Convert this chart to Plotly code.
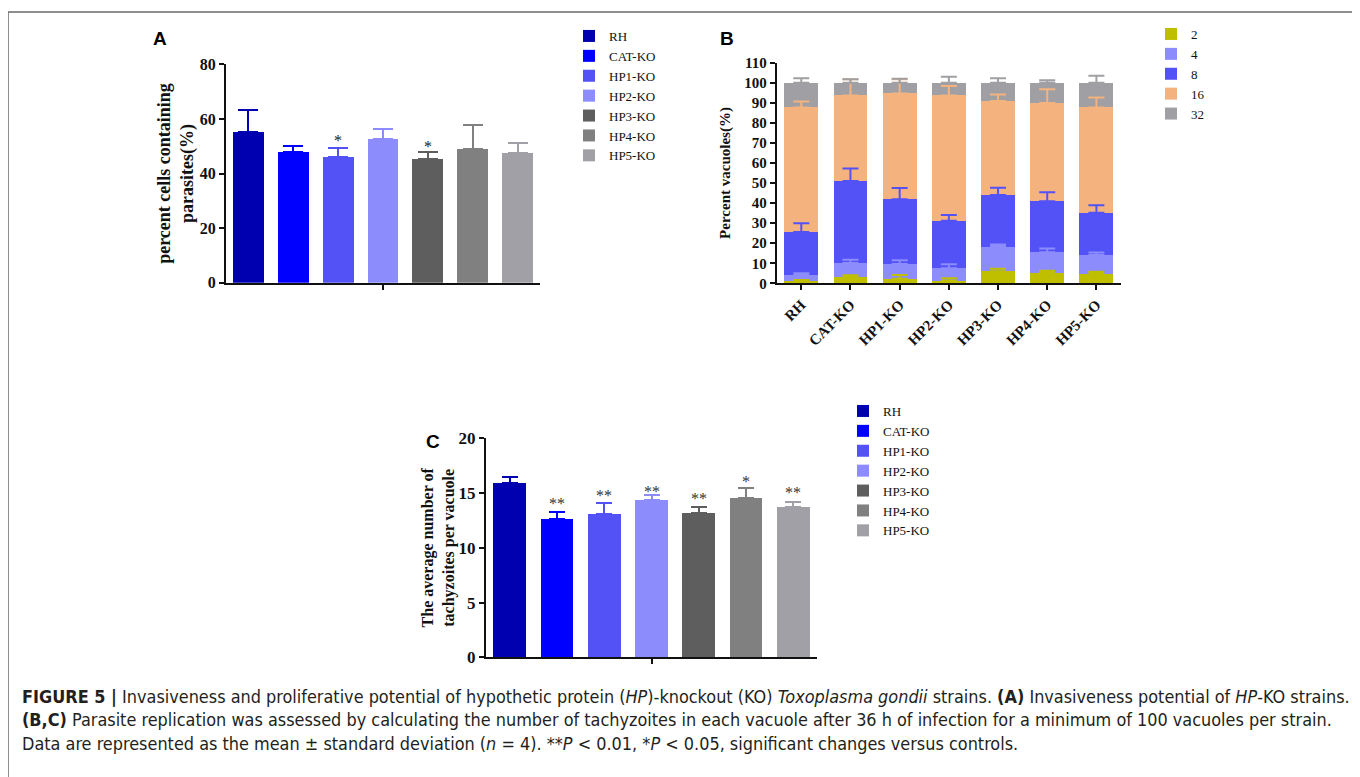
import plotly.graph_objects as go

# page has an 8px body margin, so the figure is drawn 8px in from the top-left corner
OFF = 8
W, H = 1360 - OFF, 777 - OFF

# ---------------- data ----------------
strains = ["RH", "CAT-KO", "HP1-KO", "HP2-KO", "HP3-KO", "HP4-KO", "HP5-KO"]
strain_colors = ["#0000B0", "#0000FF", "#5252F7", "#8C8CFC", "#5E5E5E", "#808080", "#A0A0A6"]

# Panel A: percent cells containing parasites
invasion_mean = [55.3, 47.9, 45.9, 52.7, 45.4, 49.1, 47.6]
invasion_sd = [7.8, 2.2, 3.3, 3.6, 2.5, 8.8, 3.4]
invasion_sig = ["", "", "*", "", "*", "", ""]
invasion_sig_pos = [0, 0, 53.5, 0, 51.2, 0, 0]

# Panel B: percent vacuoles containing 2/4/8/16/32 tachyzoites (stacked)
vac_groups = ["2", "4", "8", "16", "32"]
vac_colors = ["#BFBF00", "#8C8CFC", "#5252F7", "#F4B27E", "#A0A0A4"]
vac_2 = [1.2, 3.3, 2.3, 1.3, 6.0, 5.3, 4.8]
vac_4 = [3.0, 6.8, 7.3, 6.2, 12.3, 10.2, 9.3]
vac_8 = [21.4, 40.9, 32.3, 23.7, 25.7, 25.4, 21.1]
vac_16 = [62.1, 42.7, 52.8, 62.5, 46.9, 49.0, 52.5]
vac_32 = [12.3, 6.3, 5.3, 6.3, 9.1, 10.1, 12.3]
sd_2 = [0.5, 0.7, 1.9, 1.2, 1.3, 1.0, 1.0]
sd_4 = [0.8, 1.7, 1.9, 2.0, 1.1, 1.8, 1.2]
sd_8 = [4.3, 6.2, 5.6, 2.9, 3.7, 4.5, 3.7]
sd_16 = [3.0, 8.0, 7.0, 4.7, 3.3, 6.8, 4.9]
sd_32 = [2.2, 1.7, 2.0, 3.0, 2.2, 1.2, 3.5]
vac_values = [vac_2, vac_4, vac_8, vac_16, vac_32]
vac_sds = [sd_2, sd_4, sd_8, sd_16, sd_32]

# Panel C: average number of tachyzoites per vacuole
tachy_mean = [15.9, 12.6, 13.1, 14.4, 13.2, 14.55, 13.75]
tachy_sd = [0.6, 0.7, 1.0, 0.4, 0.55, 0.95, 0.45]
tachy_sig = ["", "**", "**", "**", "**", "*", "**"]
tachy_sig_pos = [0, 14.4, 15.1, 15.55, 14.9, 16.4, 15.4]

SERIF = "Liberation Serif, Times New Roman, serif"
SANS = "Liberation Sans, Arial, sans-serif"


def px_x(p):
    return (p - OFF) / W


def px_y(p):
    return 1 - (p - OFF) / H


fig = go.Figure()

# ---- Panel A ----
for i, s in enumerate(strains):
    fig.add_trace(go.Bar(
        x=[s], y=[invasion_mean[i]], name=s, marker_color=strain_colors[i],
        marker_line_width=0, xaxis="x", yaxis="y", legend="legend",
        error_y=dict(type="data", array=[invasion_sd[i]], arrayminus=[0], symmetric=False,
                     color=strain_colors[i], thickness=2, width=10),
    ))

# ---- Panel B (stacked bars) ----
for g, vals, col in zip(vac_groups, vac_values, vac_colors):
    fig.add_trace(go.Bar(
        x=strains, y=vals, name=g, marker_color=col, marker_line_width=0,
        xaxis="x2", yaxis="y2", legend="legend2",
    ))
# error bars of the stacked segments, drawn on top of all bars
cum = [0.0] * len(strains)
for g, vals, sds, col in zip(vac_groups, vac_values, vac_sds, vac_colors):
    cum = [c + v for c, v in zip(cum, vals)]
    fig.add_trace(go.Scatter(
        x=strains, y=cum, mode="markers", marker=dict(size=1, opacity=0),
        xaxis="x2", yaxis="y2", showlegend=False, hoverinfo="skip",
        error_y=dict(type="data", array=sds, arrayminus=[0] * len(sds), symmetric=False,
                     color=col, thickness=2, width=8),
    ))

# ---- Panel C ----
for i, s in enumerate(strains):
    fig.add_trace(go.Bar(
        x=[s], y=[tachy_mean[i]], name=s, marker_color=strain_colors[i],
        marker_line_width=0, xaxis="x3", yaxis="y3", legend="legend3",
        error_y=dict(type="data", array=[tachy_sd[i]], arrayminus=[0], symmetric=False,
                     color=strain_colors[i], thickness=2, width=8),
    ))

annotations = []
for i, s in enumerate(strains):
    if invasion_sig[i]:
        annotations.append(dict(x=s, y=invasion_sig_pos[i], xref="x", yref="y", text=invasion_sig[i],
                                showarrow=False, yshift=-4, font=dict(family=SERIF, size=16, color="#222")))
    if tachy_sig[i]:
        annotations.append(dict(x=s, y=tachy_sig_pos[i], xref="x3", yref="y3", text=tachy_sig[i],
                                showarrow=False, yshift=-4, font=dict(family=SERIF, size=16, color="#333")))

for letter, xx, yy in [("A", 160, 39), ("B", 727, 38), ("C", 433, 442)]:
    annotations.append(dict(x=px_x(xx), y=px_y(yy), xref="paper", yref="paper", text="<b>%s</b>" % letter,
                            showarrow=False, xanchor="center", yanchor="middle",
                            font=dict(family=SANS, size=19, color="#000")))

caption = (
    "<b>FIGURE 5 |</b> Invasiveness and proliferative potential of hypothetic protein (<i>HP</i>)-knockout (KO) "
    "<i>Toxoplasma gondii</i> strains. <b>(A)</b> Invasiveness potential of <i>HP</i>-KO strains.<br>"
    "<b>(B,C)</b> Parasite replication was assessed by calculating the number of tachyzoites in each vacuole "
    "after 36 h of infection for a minimum of 100 vacuoles per strain.<br>"
    "Data are represented as the mean ± standard deviation (<i>n</i> = 4). **<i>P</i> &lt; 0.01, "
    "*<i>P</i> &lt; 0.05, significant changes versus controls."
)
annotations.append(dict(x=px_x(20), y=px_y(684), xref="paper", yref="paper", text=caption,
                        showarrow=False, xanchor="left", yanchor="top", align="left",
                        font=dict(family="Liberation Sans Narrow, Arial Narrow, DejaVu Sans Condensed, Roboto Condensed, Liberation Sans, sans-serif",
                                  size=17.9, color="#231f20")))

tick_font = dict(family=SERIF, size=15, color="#111", weight="bold")
axis_common = dict(showline=True, linecolor="#111", linewidth=2, showgrid=False, zeroline=False,
                   ticks="outside", tickcolor="#111", tickwidth=2, ticklen=5, tickfont=tick_font)

legend_common = dict(font=dict(family=SERIF, size=13, color="#111"), bgcolor="rgba(0,0,0,0)",
                     xanchor="left", yanchor="top", tracegroupgap=0, traceorder="normal", itemclick=False)

fig.update_layout(
    width=W, height=H, margin=dict(l=0, r=0, t=0, b=0, autoexpand=False),
    paper_bgcolor="white", plot_bgcolor="white",
    barmode="stack", bargap=0.31,
    xaxis=dict(axis_common, domain=[px_x(226), px_x(540)], anchor="y", range=[-0.5, 6.5],
               tickmode="array", tickvals=["HP2-KO"], ticktext=[""]),
    yaxis=dict(axis_common, domain=[px_y(282.7), px_y(64.3)], anchor="x", range=[0, 80],
               tickvals=[0, 20, 40, 60, 80], tickfont=dict(tick_font, size=16),
               title=dict(text="percent cells containing<br>parasites(%)", standoff=1,
                          font=dict(family=SERIF, size=18, color="#111", weight="bold"))),
    xaxis2=dict(axis_common, domain=[px_x(776.7), px_x(1121)], anchor="y2", range=[-0.5, 6.5],
                tickangle=-45, tickfont=dict(tick_font, size=15)),
    yaxis2=dict(axis_common, domain=[px_y(283.3), px_y(62.7)], anchor="x2", range=[0, 110],
                tickvals=list(range(0, 111, 10)),
                title=dict(text="Percent vacuoles(%)", standoff=10,
                           font=dict(family=SERIF, size=15, color="#111", weight="bold"))),
    xaxis3=dict(axis_common, domain=[px_x(486), px_x(817)], anchor="y3", range=[-0.5, 6.5],
                tickmode="array", tickvals=["HP2-KO"], ticktext=[""]),
    yaxis3=dict(axis_common, domain=[px_y(657.3), px_y(438.3)], anchor="x3", range=[0, 20],
                tickvals=[0, 5, 10, 15, 20], tickfont=dict(tick_font, size=17),
                title=dict(text="The average number of<br>tachyzoites per vacuole", standoff=0,
                           font=dict(family=SERIF, size=16, color="#111", weight="bold"))),
    legend=dict(legend_common, x=px_x(569), y=px_y(21)),
    legend2=dict(legend_common, x=px_x(1151), y=px_y(19)),
    legend3=dict(legend_common, x=px_x(843), y=px_y(396)),
    annotations=annotations,
    shapes=[dict(type="rect", xref="paper", yref="paper", x0=px_x(8), x1=px_x(1355), y0=-0.05, y1=px_y(12),
                 line=dict(color="#6b6b6b", width=1.5), fillcolor="rgba(0,0,0,0)", layer="below")],
)

fig.write_html("out.html")
